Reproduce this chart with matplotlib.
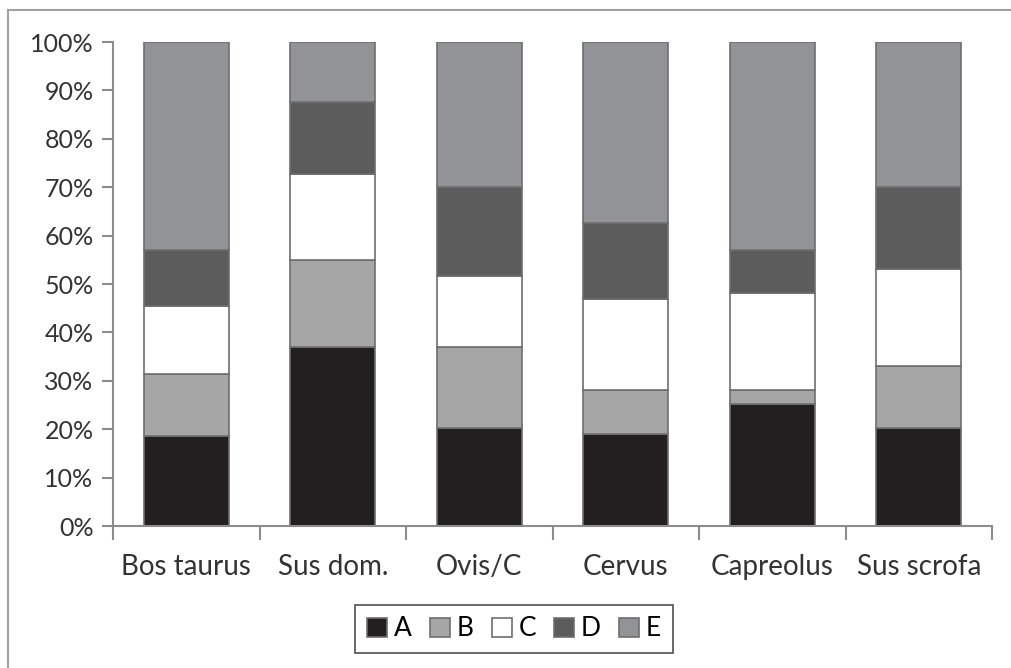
import numpy as np
import matplotlib.pyplot as plt
from matplotlib.patches import Rectangle

plt.rcParams['font.family'] = ['Lato', 'DejaVu Sans']

categories = ["Bos taurus", "Sus dom.", "Ovis/C", "Cervus", "Capreolus", "Sus scrofa"]
# segment heights (%)
A = [18.6, 36.9, 20.3, 19.0, 25.3, 20.3]
B = [12.9, 18.0, 16.6, 9.0, 2.9, 12.8]
C = [14.0, 17.8, 14.7, 19.0, 20.0, 19.9]
D = [11.5, 14.9, 18.4, 15.7, 8.8, 17.0]
E = [43.0, 12.4, 30.0, 37.3, 43.0, 30.0]
series = ["A", "B", "C", "D", "E"]
colors = ["#231f20", "#a6a6a6", "#ffffff", "#5c5c5c", "#929397"]

fig = plt.figure(figsize=(10.11, 6.68), dpi=100)
ax = fig.add_axes([113/1011, 1 - 526/668, (992-113)/1011, (526-42)/668])

# outer chart frame (right and bottom edges cut off)
fig.patches.append(Rectangle((8/1011, -0.2), 2.0, 1 - 10/668 + 0.2,
                             transform=fig.transFigure, fill=False,
                             edgecolor="#a0a0a0", linewidth=1.5))

x = np.arange(len(categories))
bottom = np.zeros(len(categories))
for name, vals, col in zip(series, [A, B, C, D, E], colors):
    ax.bar(x, vals, 0.58, bottom=bottom, color=col, edgecolor="#6e6e6e",
           linewidth=1.2, label=name)
    bottom += np.array(vals)

ax.set_xlim(-0.5, 5.5)
ax.set_ylim(0, 100)
ax.set_yticks(range(0, 101, 10))
ax.set_yticklabels([f"{v}%" for v in range(0, 101, 10)])
ax.set_xticks(x)
ax.set_xticklabels(categories)
ax.set_xticks(np.arange(-0.5, 6, 1), minor=True)
ax.tick_params(axis="x", which="major", length=0, pad=20, labelsize=20, colors="#333333")
ax.tick_params(axis="x", which="minor", length=10, direction="out", color="#8c8c8c", width=1.5)
ax.tick_params(axis="y", length=8, width=1.5, color="#8c8c8c", labelsize=18, labelcolor="#333333", pad=6)
for s in ["top", "right"]:
    ax.spines[s].set_visible(False)
for s in ["left", "bottom"]:
    ax.spines[s].set_color("#8c8c8c")
    ax.spines[s].set_linewidth(1.5)

leg = fig.legend(loc="center", bbox_to_anchor=(514/1011, 1 - 629/668), ncol=5,
                 frameon=True, fancybox=False, fontsize=19, handlelength=0.75,
                 handleheight=0.75, handletextpad=0.25, columnspacing=0.7,
                 borderpad=0.45, borderaxespad=0)
leg.get_frame().set_edgecolor("#222222")
leg.get_frame().set_linewidth(1.2)

fig.savefig("out.png", dpi=100)
